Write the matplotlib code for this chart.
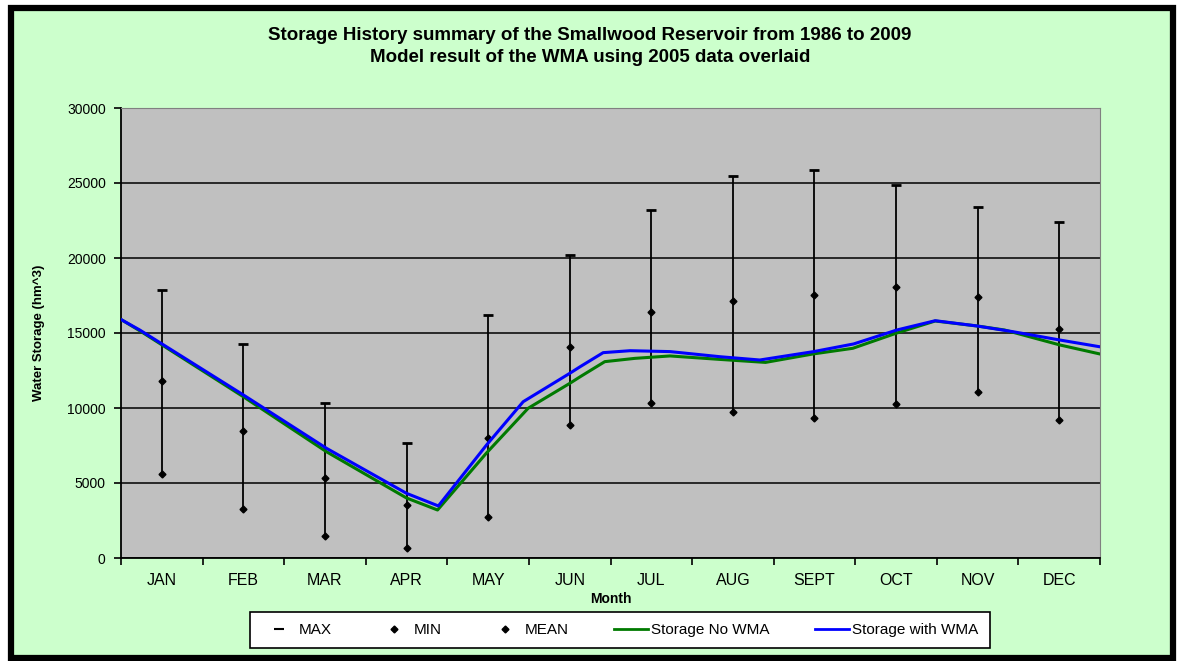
import matplotlib
matplotlib.use('Agg')
import matplotlib.pyplot as plt
from matplotlib.lines import Line2D
from matplotlib.patches import Rectangle

plt.rcParams['font.family'] = ['Liberation Sans', 'DejaVu Sans']

# 月份和历史统计数据 (hm^3)
months = ['JAN', 'FEB', 'MAR', 'APR', 'MAY', 'JUN', 'JUL', 'AUG', 'SEPT', 'OCT', 'NOV', 'DEC']
max_vals = [17850, 14270, 10350, 7640, 16200, 20200, 23200, 25470, 25890, 24870, 23420, 22420]
min_vals = [5600, 3270, 1490, 690, 2760, 8870, 10330, 9760, 9310, 10240, 11040, 9200]
mean_vals = [11800, 8470, 5310, 3560, 7980, 14090, 16420, 17130, 17510, 18070, 17420, 15290]

# 模型曲线 (横坐标为月份位置, 0~12)
wma_x = [0, 0.23, 1.5, 2.52, 3.5, 3.89, 4.48, 4.93, 5.5, 5.63, 5.91, 6.24, 6.73,
         7.34, 7.83, 8.49, 8.98, 9.51, 9.98, 10.49, 10.93, 11.51, 12.0]
wma_y = [15900, 15200, 10870, 7310, 4310, 3470, 7530, 10420, 12310, 12760, 13690, 13820, 13760,
         13420, 13200, 13760, 14270, 15200, 15820, 15470, 15090, 14530, 14080]
nowma_x = [0, 0.23, 1.5, 2.52, 3.5, 3.88, 4.48, 4.99, 5.5, 5.63, 5.93, 6.3, 6.73,
           7.34, 7.9, 8.48, 8.97, 9.51, 9.98, 10.49, 10.83, 11.51, 12.0]
nowma_y = [15900, 15150, 10750, 7080, 4000, 3200, 7000, 9980, 11640, 12090, 13090, 13310, 13470,
           13240, 13040, 13600, 13980, 15000, 15800, 15470, 15200, 14200, 13600]

fig = plt.figure(figsize=(11.78, 6.61), dpi=100)
fig.patch.set_facecolor('white')

# 外框 (浅绿背景 + 黑色粗边)
W, H = 1178, 661
fig.patches.append(Rectangle((11 / W, 3 / H), 1162 / W, 650 / H, transform=fig.transFigure,
                             facecolor='#CCFFCC', edgecolor='black', linewidth=4.5, zorder=-5))

ax = fig.add_axes([121 / W, (H - 558) / H, 979 / W, 450 / H])
ax.set_facecolor('#C0C0C0')

xc = [i + 0.5 for i in range(len(months))]

# 误差线: 最大-最小
ax.vlines(xc, min_vals, max_vals, color='black', linewidth=1.3, zorder=3)
ax.plot(xc, max_vals, linestyle='none', marker='_', markersize=7, markeredgewidth=2,
        color='black', zorder=4)
ax.plot(xc, min_vals, linestyle='none', marker='D', markersize=3.5, color='black', zorder=4)
ax.plot(xc, mean_vals, linestyle='none', marker='D', markersize=3.5, color='black', zorder=4)

ax.plot(nowma_x, nowma_y, color='#007A00', linewidth=2.2, zorder=5)
ax.plot(wma_x, wma_y, color='#0000FF', linewidth=2.2, zorder=6)

ax.set_xlim(0, 12)
ax.set_ylim(0, 30000)
ax.set_yticks(range(0, 30001, 5000))
ax.set_xticks(range(0, 13))
ax.set_xticklabels([])
ax.set_xticks(xc, minor=True)
ax.set_xticklabels(months, minor=True, fontsize=11.5)
ax.tick_params(axis='x', which='minor', length=0, pad=11)
ax.tick_params(axis='x', which='major', length=5, width=1.2, direction='out')
ax.tick_params(axis='y', length=5, width=1.2, direction='out', labelsize=10, pad=6)
ax.yaxis.grid(True, color='black', linewidth=1.1)
ax.set_axisbelow(True)

for side in ['top', 'right']:
    ax.spines[side].set_color('#808080')
    ax.spines[side].set_linewidth(0.8)
for side in ['left', 'bottom']:
    ax.spines[side].set_linewidth(1.3)

ax.set_ylabel('Water Storage (hm^3)', fontsize=9.5, fontweight='bold', labelpad=16)
ax.set_xlabel('Month', fontsize=10, fontweight='bold', labelpad=3)

fig.text(0.501, 1 - 35 / H, 'Storage History summary of the Smallwood Reservoir from 1986 to 2009',
         ha='center', va='center', fontsize=13.5, fontweight='bold')
fig.text(0.501, 1 - 57 / H, 'Model result of the WMA using 2005 data overlaid',
         ha='center', va='center', fontsize=13.5, fontweight='bold')

handles = [
    Line2D([], [], linestyle='none', marker='_', markersize=7, markeredgewidth=1.5, color='black'),
    Line2D([], [], linestyle='none', marker='D', markersize=3.5, color='black'),
    Line2D([], [], linestyle='none', marker='D', markersize=3.5, color='black'),
    Line2D([], [], color='#007A00', linewidth=2),
    Line2D([], [], color='#0000FF', linewidth=2),
]
labels = ['MAX', 'MIN', 'MEAN', 'Storage No WMA', 'Storage with WMA']
leg = fig.legend(handles, labels, loc='center', bbox_to_anchor=(620 / W, (H - 630) / H), ncol=5,
                 fontsize=11, frameon=True, fancybox=False, edgecolor='black', facecolor='white',
                 framealpha=1, handlelength=2.2, handletextpad=0.2, columnspacing=3.0,
                 borderpad=0.75, borderaxespad=0)
leg.get_frame().set_linewidth(1.2)

fig.savefig('out.png', dpi=100, facecolor=fig.get_facecolor())
